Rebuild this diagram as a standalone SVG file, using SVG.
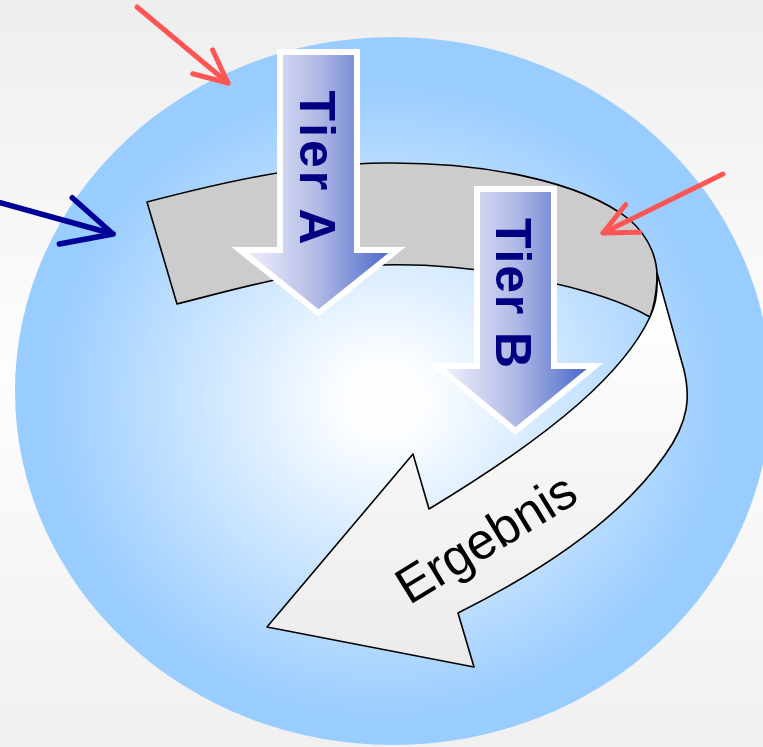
<svg xmlns="http://www.w3.org/2000/svg" width="763" height="747" viewBox="0 0 763 747">
  <defs>
    <linearGradient id="bg" x1="0" y1="0" x2="0" y2="1">
      <stop offset="0" stop-color="#eeeeee"/>
      <stop offset="0.5" stop-color="#fdfdfd"/>
      <stop offset="1" stop-color="#f0f0f0"/>
    </linearGradient>
    <radialGradient id="globe" cx="0.489" cy="0.513" r="0.5" fx="0.489" fy="0.513">
      <stop offset="0" stop-color="#ffffff"/>
      <stop offset="0.1" stop-color="#fdfeff"/>
      <stop offset="0.9" stop-color="#99ccff"/>
      <stop offset="1" stop-color="#99ccff"/>
    </radialGradient>
    <linearGradient id="tier" x1="0" y1="0" x2="1" y2="0">
      <stop offset="0" stop-color="#f6f6fd"/>
      <stop offset="0.5" stop-color="#b0b9e5"/>
      <stop offset="1" stop-color="#4060c8"/>
    </linearGradient>
    <linearGradient id="ribbon" gradientUnits="userSpaceOnUse" x1="0" y1="300" x2="0" y2="660">
      <stop offset="0" stop-color="#ffffff"/>
      <stop offset="1" stop-color="#ececec"/>
    </linearGradient>
    <marker id="vRed" markerUnits="userSpaceOnUse" orient="auto" overflow="visible" refX="0" refY="0">
      <path d="M-33,-15.5 L0,0 L-33,15.5" fill="none" stroke="#ff5555" stroke-width="5" stroke-linecap="round" stroke-linejoin="round"/>
    </marker>
    <marker id="vBlue" markerUnits="userSpaceOnUse" orient="auto" overflow="visible" refX="0" refY="0">
      <path d="M-49,-24 L0,0 L-49,24" fill="none" stroke="#000099" stroke-width="5.5" stroke-linecap="round" stroke-linejoin="round"/>
    </marker>
  </defs>
  <style>
    .edge { stroke: #000000; stroke-width: 1.6; stroke-linejoin: round; }
    .tier { fill: url(#tier); stroke: #ffffff; stroke-width: 6; stroke-linejoin: miter; }
    .tierText { font-family: "Liberation Sans", Arial, sans-serif; font-weight: bold; font-size: 50px; fill: #000080; }
    .label { font-family: "Liberation Sans", Arial, sans-serif; font-size: 51px; fill: #000000; }
    .red { stroke: #ff5555; stroke-width: 5; stroke-linecap: round; fill: none; marker-end: url(#vRed); }
    .blue { stroke: #000099; stroke-width: 5.5; stroke-linecap: round; fill: none; marker-end: url(#vBlue); }
  </style>

  <rect id="background" x="0" y="0" width="763" height="747" fill="url(#bg)"/>
  <ellipse id="globe-shape" cx="393" cy="391" rx="378" ry="354" fill="url(#globe)"/>

  <g id="band">
    <path class="edge" fill="#cccccc" d="M147,202 C220,183 300,164 385,163 C480,162 580,180 630,220 C650,238 658,260 657,280 C656,295 654,307 650,317 C600,288 480,262 380,265 C310,268 240,288 177,304 Z"/>
  </g>

  <g id="ergebnis">
    <path class="edge" fill="url(#ribbon)" d="M650,317 C625,370 560,430 429,509 L413,454 L267,627 L474,667 L458,613 C540,572 620,520 665,455 C690,420 690,395 684,370 L657,273 C658,290 656,305 650,317 Z"/>
    <text class="label" text-anchor="middle" transform="translate(495,553) rotate(-31.5)">Ergebnis</text>
  </g>

  <g id="tierA">
    <polygon class="tier" points="280,52 357,52 357,250 397,250 318.5,313 240,250 280,250"/>
    <text class="tierText" text-anchor="middle" textLength="154" lengthAdjust="spacing" transform="translate(300,167.5) rotate(90)">Tier A</text>
  </g>

  <g id="tierB">
    <polygon class="tier" points="477,189 554,189 554,366 595,366 515.5,431 437,366 477,366"/>
    <text class="tierText" text-anchor="middle" textLength="150" lengthAdjust="spacing" transform="translate(496,293) rotate(90)">Tier B</text>
  </g>

  <g id="connectors">
    <line class="red" x1="137" y1="7" x2="228" y2="83"/>
    <line class="red" x1="723" y1="174" x2="603" y2="233"/>
    <line class="blue" x1="-2" y1="202" x2="113" y2="234"/>
  </g>
</svg>
